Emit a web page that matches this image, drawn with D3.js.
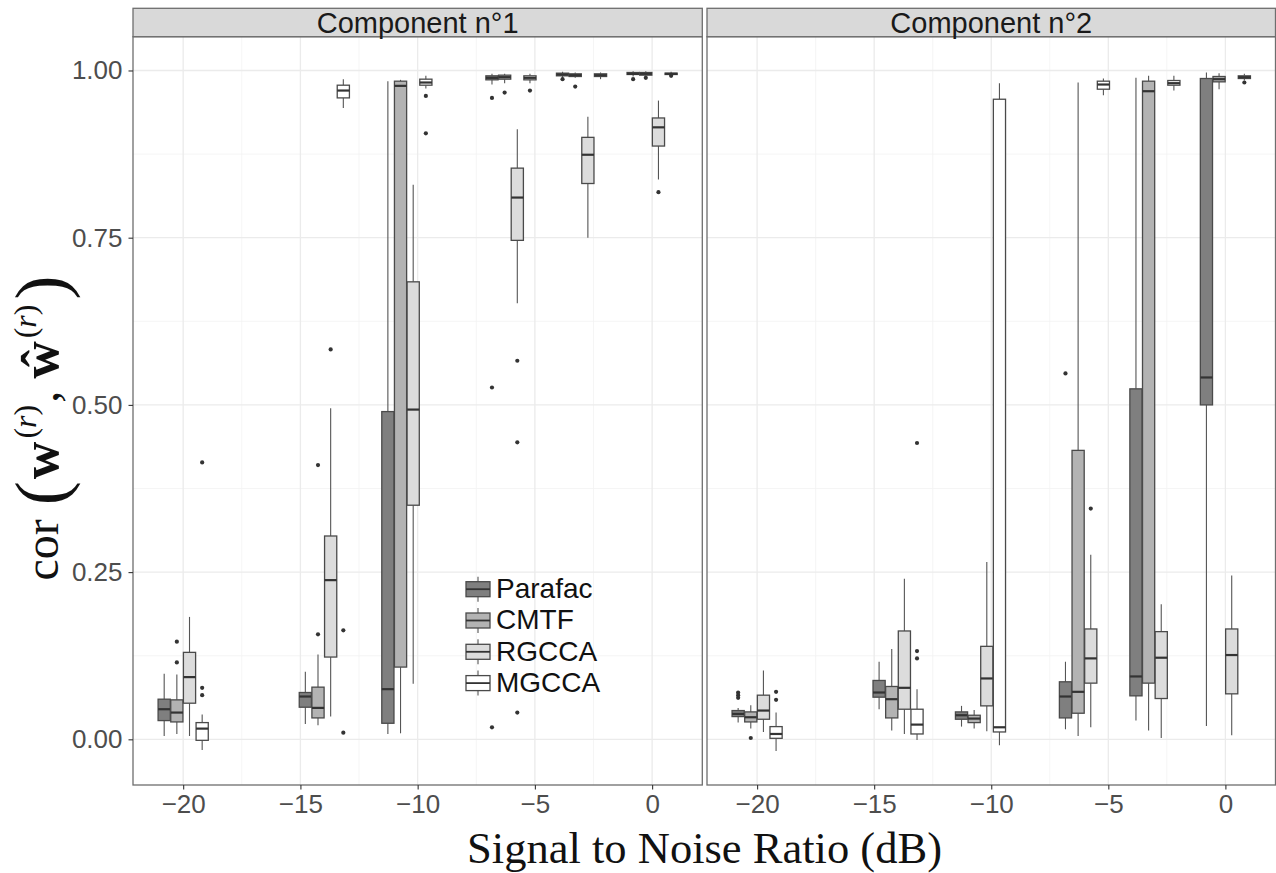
<!DOCTYPE html>
<html><head><meta charset="utf-8">
<script src="https://cdn.jsdelivr.net/npm/d3@7"></script>
<style>body{margin:0;background:#fff} svg{display:block}</style>
</head><body>
<svg id="c" width="1276" height="873"></svg>
<script>
// ---------- data ----------
const snr = [-20, -13.98, -10.46, -6.02, -3.01, 0];
const methods = ["Parafac", "CMTF", "RGCCA", "MGCCA"];
const panelTitles = ["Component n°1", "Component n°2"];
const xTicks = [-20, -15, -10, -5, 0];
const yTicks = [0, 0.25, 0.5, 0.75, 1];
// each row: [lowerWhisker, q1, median, q3, upperWhisker] for one SNR
const c1Parafac = [[0.005,0.028,0.045,0.060,0.098],[0.023,0.048,0.064,0.070,0.101],[0.008,0.024,0.075,0.490,0.984],[0.979,0.986,0.989,0.992,0.995],[0.989,0.992,0.994,0.996,0.998],[0.991,0.994,0.995,0.997,0.999]];
const c1CMTF    = [[0.008,0.026,0.040,0.059,0.097],[0.021,0.032,0.047,0.078,0.127],[0.009,0.108,0.977,0.984,0.986],[0.981,0.987,0.990,0.993,0.995],[0.989,0.991,0.993,0.995,0.997],[0.990,0.993,0.995,0.997,0.999]];
const c1RGCCA   = [[0.005,0.054,0.093,0.130,0.183],[0.034,0.123,0.238,0.304,0.495],[0.083,0.350,0.493,0.684,0.829],[0.652,0.746,0.810,0.854,0.912],[0.750,0.831,0.874,0.900,0.931],[0.837,0.887,0.915,0.929,0.955]];
const c1MGCCA   = [[-0.016,-0.0015,0.016,0.025,0.037],[0.944,0.959,0.970,0.978,0.987],[0.973,0.978,0.982,0.987,0.992],[0.981,0.986,0.989,0.992,0.995],[0.987,0.991,0.993,0.995,0.997],[0.992,0.994,0.995,0.996,0.998]];
const c2Parafac = [[0.025,0.034,0.038,0.043,0.047],[0.045,0.063,0.070,0.088,0.116],[0.019,0.030,0.036,0.041,0.050],[0.015,0.032,0.064,0.086,0.116],[0.028,0.065,0.094,0.524,0.989],[0.020,0.500,0.541,0.988,0.997]];
const c2CMTF    = [[0.016,0.026,0.033,0.041,0.051],[0.013,0.032,0.060,0.079,0.135],[0.016,0.025,0.031,0.036,0.044],[0.005,0.039,0.071,0.432,0.982],[0.013,0.084,0.969,0.984,0.992],[0.972,0.983,0.987,0.991,0.996]];
const c2RGCCA   = [[0.011,0.030,0.043,0.066,0.103],[0.008,0.045,0.077,0.162,0.240],[0.012,0.050,0.091,0.139,0.265],[0.018,0.084,0.121,0.165,0.276],[0.002,0.061,0.122,0.161,0.202],[0.006,0.068,0.126,0.165,0.245]];
const c2MGCCA   = [[-0.0175,0.0015,0.008,0.019,0.040],[-0.001,0.008,0.022,0.045,0.075],[-0.009,0.011,0.018,0.957,0.981],[0.963,0.972,0.979,0.984,0.988],[0.970,0.978,0.981,0.985,0.992],[0.985,0.988,0.990,0.992,0.995]];
// outliers: [methodIndex, snrIndex, value]
const c1Outliers = [[0,3,0.959],[0,3,0.526],[0,3,0.018],[0,4,0.987],[0,5,0.987],
  [1,0,0.146],[1,0,0.115],[1,1,0.157],[1,1,0.410],[1,3,0.967],[1,4,0.976],[1,5,0.989],
  [2,1,0.583],[2,3,0.566],[2,3,0.444],[2,3,0.040],[2,5,0.818],
  [3,0,0.414],[3,0,0.077],[3,0,0.066],[3,1,0.163],[3,1,0.010],[3,2,0.962],[3,2,0.906],[3,3,0.970],[3,5,0.992]];
const c2Outliers = [[0,0,0.070],[0,0,0.066],[0,0,0.062],[0,3,0.547],
  [1,0,0.002],[2,3,0.345],
  [3,0,0.071],[3,0,0.059],[3,1,0.132],[3,1,0.121],[3,1,0.443],[3,5,0.982]];

const fills = ["#7f7f7f", "#b3b3b3", "#dcdcdc", "#ffffff"];

// ---------- layout ----------
const svg = d3.select("#c");
const plotTop = 36.7, plotBottom = 785, stripTop = 8.3;
const panelsX = [[133, 702.3], [707, 1275.5]];
const y = d3.scaleLinear().domain([-0.0683, 1.0505]).range([plotBottom, plotTop]);
const comps = [[c1Parafac, c1CMTF, c1RGCCA, c1MGCCA], [c2Parafac, c2CMTF, c2RGCCA, c2MGCCA]];
const outs = [c1Outliers, c2Outliers];
const dodge = 0.54, boxW = 0.52;
const sans = "Liberation Sans, Arial, sans-serif";

panelsX.forEach((px, p) => {
  const x = d3.scaleLinear().domain([-22.14, 2.14]).range(px);
  const g = svg.append("g");
  // grid
  const xMinor = [-17.5, -12.5, -7.5, -2.5];
  const yMinor = [0.125, 0.375, 0.625, 0.875];
  g.selectAll(".xm").data(xMinor).join("line").attr("x1", d => x(d)).attr("x2", d => x(d))
    .attr("y1", plotTop).attr("y2", plotBottom).attr("stroke", "#f2f2f2").attr("stroke-width", 0.8);
  g.selectAll(".ym").data(yMinor).join("line").attr("y1", d => y(d)).attr("y2", d => y(d))
    .attr("x1", px[0]).attr("x2", px[1]).attr("stroke", "#f2f2f2").attr("stroke-width", 0.8);
  g.selectAll(".xg").data(xTicks).join("line").attr("x1", d => x(d)).attr("x2", d => x(d))
    .attr("y1", plotTop).attr("y2", plotBottom).attr("stroke", "#ebebeb").attr("stroke-width", 1.3);
  g.selectAll(".yg").data(yTicks).join("line").attr("y1", d => y(d)).attr("y2", d => y(d))
    .attr("x1", px[0]).attr("x2", px[1]).attr("stroke", "#ebebeb").attr("stroke-width", 1.3);

  // boxes
  comps[p].forEach((series, m) => {
    const off = (m - 1.5) * dodge;
    series.forEach((s, i) => {
      const cx = x(snr[i] + off);
      const hw = x(boxW / 2) - x(0);
      const [lo, q1, med, q3, hi] = s;
      g.append("line").attr("x1", cx).attr("x2", cx).attr("y1", y(hi)).attr("y2", y(q3))
        .attr("stroke", "#555").attr("stroke-width", 1.1);
      g.append("line").attr("x1", cx).attr("x2", cx).attr("y1", y(q1)).attr("y2", y(lo))
        .attr("stroke", "#555").attr("stroke-width", 1.1);
      g.append("rect").attr("x", cx - hw).attr("width", 2 * hw)
        .attr("y", y(q3)).attr("height", Math.max(0.5, y(q1) - y(q3)))
        .attr("fill", fills[m]).attr("stroke", "#4a4a4a").attr("stroke-width", 1.3);
      g.append("line").attr("x1", cx - hw).attr("x2", cx + hw).attr("y1", y(med)).attr("y2", y(med))
        .attr("stroke", "#333").attr("stroke-width", 2.2);
    });
  });
  g.selectAll(".out").data(outs[p]).join("circle")
    .attr("cx", d => x(snr[d[1]] + (d[0] - 1.5) * dodge)).attr("cy", d => y(d[2]))
    .attr("r", 2.1).attr("fill", "#333");

  // border
  g.append("rect").attr("x", px[0]).attr("y", plotTop).attr("width", px[1] - px[0]).attr("height", plotBottom - plotTop)
    .attr("fill", "none").attr("stroke", "#6e6e6e").attr("stroke-width", 1.3);
  // strip
  g.append("rect").attr("x", px[0]).attr("y", stripTop).attr("width", px[1] - px[0]).attr("height", plotTop - stripTop)
    .attr("fill", "#d9d9d9").attr("stroke", "#6e6e6e").attr("stroke-width", 1.3);
  g.append("text").attr("x", (px[0] + px[1]) / 2).attr("y", 33).attr("text-anchor", "middle")
    .attr("font-family", sans).attr("font-size", 29).attr("fill", "#1a1a1a")
    .text(panelTitles[p]);

  // x axis
  const ax = svg.append("g").attr("transform", `translate(0,${plotBottom})`)
    .call(d3.axisBottom(x).tickValues(xTicks).tickSize(4.5).tickPadding(5).tickFormat(d3.format("d")));
  ax.select(".domain").remove();
  ax.selectAll("line").attr("stroke", "#333").attr("stroke-width", 1.1);
  ax.selectAll("text").attr("font-family", sans).attr("font-size", 26).attr("fill", "#4d4d4d");

  if (p === 0) {
    const ay = svg.append("g").attr("transform", `translate(${px[0]},0)`)
      .call(d3.axisLeft(y).tickValues(yTicks).tickSize(4.5).tickPadding(6).tickFormat(d3.format(".2f")));
    ay.select(".domain").remove();
    ay.selectAll("line").attr("stroke", "#333").attr("stroke-width", 1.1);
    ay.selectAll("text").attr("font-family", sans).attr("font-size", 26).attr("fill", "#4d4d4d");

    // legend
    const lg = svg.append("g").attr("transform", "translate(466,581.7)");
    methods.forEach((mname, m) => {
      const gy = m * 31.3;
      lg.append("line").attr("x1", 12).attr("x2", 12).attr("y1", gy - 5).attr("y2", gy + 20)
        .attr("stroke", "#555").attr("stroke-width", 1.1);
      lg.append("rect").attr("x", 0).attr("y", gy).attr("width", 24).attr("height", 15)
        .attr("fill", fills[m]).attr("stroke", "#4a4a4a").attr("stroke-width", 1.3);
      lg.append("line").attr("x1", 0).attr("x2", 24).attr("y1", gy + 7.5).attr("y2", gy + 7.5)
        .attr("stroke", "#333").attr("stroke-width", 1.8);
      lg.append("text").attr("x", 30).attr("y", gy + 16.5).attr("font-family", sans)
        .attr("font-size", 28).attr("fill", "#111").text(mname);
    });
  }
});

// axis titles
svg.append("text").attr("x", 704.5).attr("y", 863).attr("text-anchor", "middle")
  .attr("font-family", "Liberation Serif, DejaVu Serif, serif").attr("font-size", 44).attr("fill", "#111")
  .attr("textLength", 475).attr("lengthAdjust", "spacingAndGlyphs")
  .text("Signal to Noise Ratio (dB)");

const yt = svg.append("text").attr("transform", "translate(58,428) rotate(-90)").attr("text-anchor", "middle")
  .attr("font-family", "Liberation Serif, DejaVu Serif, serif").attr("font-size", 48).attr("fill", "#111");
yt.append("tspan").text("cor");
yt.append("tspan").attr("dx", 14).attr("dy", 7).attr("font-size", 72).text("(");
yt.append("tspan").attr("dx", 2).attr("dy", -7).attr("font-weight", "bold").attr("font-size", 52).text("w");
const s1 = yt.append("tspan").attr("dx", 3).attr("dy", -22).attr("font-size", 32);
s1.append("tspan").text("(");
s1.append("tspan").attr("font-style", "italic").text("r");
s1.append("tspan").text(")");
yt.append("tspan").attr("dx", 2).attr("dy", 22).text(",");
yt.append("tspan").attr("dx", 12).attr("font-weight", "bold").attr("font-size", 52).text("ŵ");
const s2 = yt.append("tspan").attr("dx", 3).attr("dy", -22).attr("font-size", 32);
s2.append("tspan").text("(");
s2.append("tspan").attr("font-style", "italic").text("r");
s2.append("tspan").text(")");
yt.append("tspan").attr("dx", 5).attr("dy", 29).attr("font-size", 72).text(")");
</script>
</body></html>
